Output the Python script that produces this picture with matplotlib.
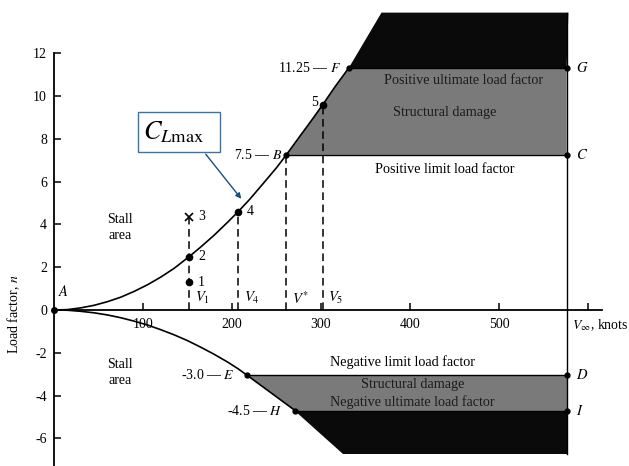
import matplotlib
matplotlib.use("Agg")
import matplotlib.pyplot as plt
from matplotlib.patches import Polygon, FancyBboxPatch

plt.rcParams["font.family"] = ["Liberation Serif", "DejaVu Serif"]
plt.rcParams["mathtext.fontset"] = "stix"

# curve
v_pos = [0, 15, 30, 45, 60, 75, 90, 105, 120, 135, 152, 165, 180, 195, 207, 220, 235, 250, 261,
         275, 290, 302, 316, 331]
n_pos = [0, 0.02, 0.1, 0.22, 0.39, 0.6, 0.87, 1.18, 1.54, 1.95, 2.5, 2.95, 3.5, 4.1, 4.6, 5.18,
         5.91, 6.65, 7.25, 8.05, 8.9, 9.6, 10.45, 11.3]
v_neg = [0, 15, 30, 45, 60, 75, 90, 105, 120, 135, 150, 165, 180, 195, 207, 217]
n_neg = [0, -0.01, -0.06, -0.13, -0.23, -0.36, -0.52, -0.7, -0.92, -1.16, -1.43, -1.74, -2.07,
         -2.43, -2.75, -3.05]

# load factor levels and corner speeds
n_lim_pos, n_ult_pos = 7.25, 11.3
n_lim_neg, n_ult_neg = -3.05, -4.7
n_top, n_bot = 13.9, -6.75
v_B, v_F, v_E, v_H, v_max = 261, 331, 217, 271, 576
v_top_left, v_bot_left = 368, 325

# flight points 1-5 and the dashed speed lines
pt_v = [152, 152, 152, 207, 302]
pt_n = [1.3, 2.5, 4.35, 4.6, 9.6]
pt_lab = ["1", "2", "3", "4", "5"]
dash_v = [152, 207, 261, 302]
dash_n = [4.35, 4.6, 7.25, 9.6]
dash_lab = [r"$V_1$", r"$V_4$", r"$V^{*}$", r"$V_5$"]

xticks = [100, 200, 300, 400, 500, 600]
xlabels = ["100", "200", "300", "400", "500", ""]
yticks = [-6, -4, -2, 0, 2, 4, 6, 8, 10, 12]

fig = plt.figure(figsize=(6.29, 4.66), dpi=100)
ax = fig.add_axes([0, 0, 1, 1])
ax.set_xlim(-60.7, 646.1)
ax.set_ylim(-7.29, 14.49)

grey = "#7a7a7a"
black = "#0a0a0a"

# shaded regions
upper_edge = [(v, n) for v, n in zip(v_pos, n_pos) if v >= v_B]
ax.add_patch(Polygon(upper_edge + [(v_max, n_ult_pos), (v_max, n_lim_pos)],
                     closed=True, fc=grey, ec="none", zorder=1))
ax.add_patch(Polygon([(v_F, n_ult_pos), (v_top_left, n_top), (v_max + 2, n_top), (v_max, n_ult_pos)],
                     closed=True, fc=black, ec="none", zorder=1))
ax.add_patch(Polygon([(v_E, n_lim_neg), (v_max, n_lim_neg), (v_max, n_ult_neg), (v_H, n_ult_neg)],
                     closed=True, fc=grey, ec="none", zorder=1))
ax.add_patch(Polygon([(v_H, n_ult_neg), (v_max, n_ult_neg), (v_max, n_bot), (v_bot_left, n_bot)],
                     closed=True, fc=black, ec="none", zorder=1))

# envelope
ax.plot(v_pos, n_pos, color="black", lw=1.2, zorder=3)
ax.plot(v_neg, n_neg, color="black", lw=1.2, zorder=3)
ax.plot([v_E, v_H], [n_lim_neg, n_ult_neg], color="black", lw=1.2, zorder=3)
ax.plot([v_B, v_max], [n_lim_pos, n_lim_pos], color="black", lw=1.0, zorder=3)
ax.plot([v_F, v_max], [n_ult_pos, n_ult_pos], color="black", lw=1.0, zorder=3)
ax.plot([v_E, v_max], [n_lim_neg, n_lim_neg], color="black", lw=1.0, zorder=3)
ax.plot([v_H, v_max], [n_ult_neg, n_ult_neg], color="black", lw=1.0, zorder=3)
ax.plot([v_max, v_max], [n_bot, n_top], color="black", lw=1.0, zorder=3)

corner_v = [v_B, v_max, v_F, v_max, v_E, v_max, v_H, v_max]
corner_n = [n_lim_pos, n_lim_pos, n_ult_pos, n_ult_pos, n_lim_neg, n_lim_neg, n_ult_neg, n_ult_neg]
ax.plot(corner_v, corner_n, "o", color="black", ms=3.5, zorder=4)
ax.plot([0], [0], "o", color="black", ms=4, zorder=4)

for v, n in zip(dash_v, dash_n):
    ax.plot([v, v], [0, n], color="black", lw=1.1, ls=(0, (5, 3)), zorder=2)
for v, n, lab in zip(dash_v, dash_n, dash_lab):
    ax.text(v + 6, 0.55, lab, fontsize=10.5, va="center", ha="left")

for v, n, lab in zip(pt_v, pt_n, pt_lab):
    if lab == "3":
        ax.plot(v, n, "x", color="black", ms=6, mew=1.2, zorder=4)
    else:
        ax.plot(v, n, "o", color="black", ms=4.5, zorder=4)
    if lab == "5":
        ax.text(v - 5, n + 0.1, lab, fontsize=10, va="center", ha="right")
    else:
        ax.text(v + 10, n, lab, fontsize=10, va="center", ha="left")

# axes through the origin
for s in ["top", "right"]:
    ax.spines[s].set_visible(False)
ax.spines["left"].set_position(("data", 0))
ax.spines["bottom"].set_position(("data", 0))
ax.spines["left"].set_bounds(-7.29, 12)
ax.spines["bottom"].set_bounds(0, 616)
ax.spines["left"].set_linewidth(1.3)
ax.spines["bottom"].set_linewidth(1.3)
ax.set_xticks(xticks)
ax.set_xticklabels(xlabels)
ax.set_yticks(yticks)
ax.set_yticklabels([str(t) for t in yticks])
ax.tick_params(axis="both", direction="in", length=5, width=1.1, labelsize=10)
ax.tick_params(axis="x", pad=6)
ax.tick_params(axis="y", pad=5)

ax.text(-45, -0.2, "Load factor, $n$", rotation=90, fontsize=10, ha="center", va="center")
ax.text(582, -0.7, r"$V_{\infty}$, knots", fontsize=10, ha="left", va="center")

# labels
ax.text(4, 0.5, "$A$", fontsize=10.5, ha="left", va="bottom")
ax.text(74, 3.85, "Stall\narea", fontsize=10, ha="center", va="center", linespacing=1.3)
ax.text(74, -2.9, "Stall\narea", fontsize=10, ha="center", va="center", linespacing=1.3)
ax.text(v_B - 4, n_lim_pos, "7.5 — $B$", fontsize=10, ha="right", va="center")
ax.text(v_F - 9, n_ult_pos, "11.25 — $F$", fontsize=10, ha="right", va="center")
ax.text(v_E - 14, n_lim_neg, "-3.0 — $E$", fontsize=10, ha="right", va="center")
ax.text(v_H - 14, n_ult_neg, "-4.5 — $H$", fontsize=10, ha="right", va="center")
for lab, n in zip(["$G$", "$C$", "$D$", "$I$"], [n_ult_pos, n_lim_pos, n_lim_neg, n_ult_neg]):
    ax.text(v_max + 10, n, lab, fontsize=10.5, ha="left", va="center")

ax.text(439, 6.55, "Positive limit load factor", fontsize=10.2, ha="center", va="center")
ax.text(460, 10.75, "Positive ultimate load factor", fontsize=10.2, ha="center", va="center", color="#1c1c1c")
ax.text(439, 9.25, "Structural damage", fontsize=10.2, ha="center", va="center", color="#1c1c1c")
ax.text(392, -2.43, "Negative limit load factor", fontsize=10.2, ha="center", va="center")
ax.text(403, -3.5, "Structural damage", fontsize=10.2, ha="center", va="center", color="#1c1c1c")
ax.text(403, -4.3, "Negative ultimate load factor", fontsize=10.2, ha="center", va="center", color="#1c1c1c")

# C_Lmax callout box
fig.patches.append(FancyBboxPatch((138 / 629, 1 - 152 / 466), 82 / 629, 40 / 466, boxstyle="square,pad=0",
                                  transform=fig.transFigure, fc="white", ec="#41719c", lw=1.0, zorder=5))
fig.text(143 / 629, 1 - 132 / 466, r"$C_{L\mathrm{max}}$", fontsize=19, ha="left", va="center", zorder=6)
ax.annotate("", xy=(243 / 629, 1 - 201 / 466), xytext=(204 / 629, 1 - 152 / 466),
            xycoords="figure fraction", textcoords="figure fraction",
            arrowprops=dict(arrowstyle="-|>", color="#1f4e79", lw=1.0, mutation_scale=8))

plt.savefig("out.png", dpi=100)
